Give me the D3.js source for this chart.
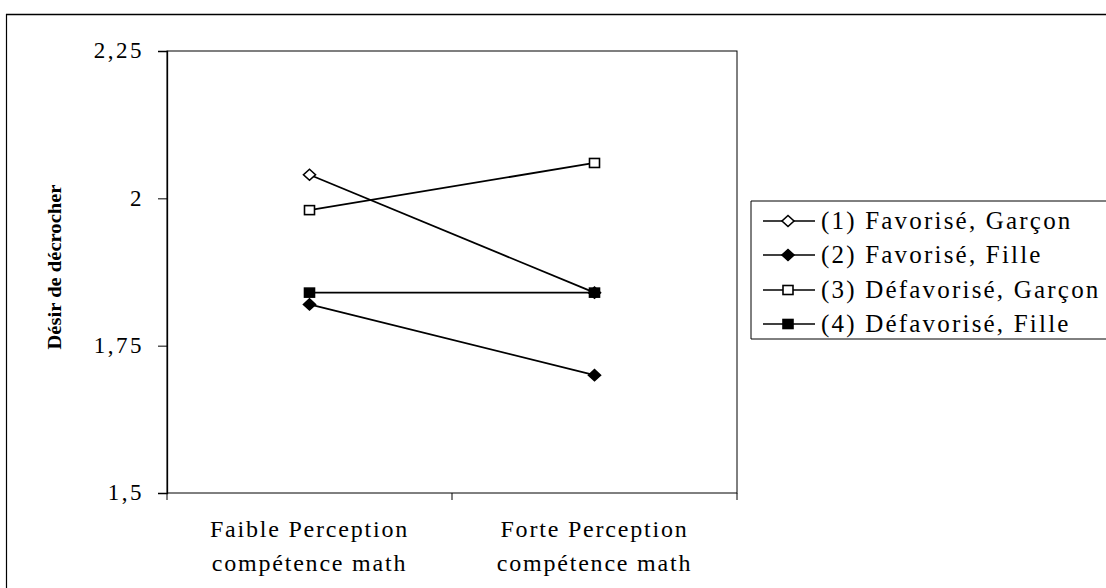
<!DOCTYPE html>
<html><head><meta charset="utf-8">
<script src="https://cdn.jsdelivr.net/npm/d3@7/dist/d3.min.js"></script>
<style>body{margin:0;background:#fff}svg{display:block}</style>
</head><body><svg id="c" width="1106" height="588"></svg>
<script>
const categories = [["Faible Perception","compétence math"],["Forte Perception","compétence math"]];
const seriesNames = ["(1) Favorisé, Garçon","(2) Favorisé, Fille","(3) Défavorisé, Garçon","(4) Défavorisé, Fille"];
const s1 = [2.04, 1.84];
const s2 = [1.82, 1.70];
const s3 = [1.98, 2.06];
const s4 = [1.84, 1.84];
const yTicks = [1.5, 1.75, 2, 2.25];
const yTickLabels = ["1,5","1,75","2","2,25"];
const yLabel = "Désir de décrocher";
const markers = [{shape:"diamond",fill:"#fff"},{shape:"diamond",fill:"#000"},{shape:"square",fill:"#fff"},{shape:"square",fill:"#000"}];
const seriesData = [s1,s2,s3,s4];

const svg = d3.select("#c");
const serif = "'Liberation Serif','Times New Roman',serif";
const L=167,R=737,T=51,B=493;

// outer frame
svg.append("line").attr("x1",6).attr("x2",1106).attr("y1",14.5).attr("y2",14.5).attr("stroke","#000").attr("stroke-width",1.5);
svg.append("line").attr("x1",6.5).attr("x2",6.5).attr("y1",14).attr("y2",588).attr("stroke","#000").attr("stroke-width",1.2);

const x = d3.scaleBand().domain(categories.map((d,i)=>i)).range([L,R]);
const y = d3.scaleLinear().domain([1.5,2.25]).range([B,T]);

// plot frame
svg.append("rect").attr("x",L).attr("y",T).attr("width",R-L).attr("height",B-T).attr("fill","none").attr("stroke","#000").attr("stroke-width",1);

// y axis
const ya = svg.append("g").attr("transform",`translate(${L},0)`)
  .call(d3.axisLeft(y).tickValues(yTicks).tickFormat((d,i)=>yTickLabels[i]).tickSize(9).tickPadding(14));
ya.select(".domain").attr("stroke","#000").attr("stroke-width",1.3);
ya.selectAll("text").attr("font-family",serif).attr("font-size",23).attr("fill","#000").attr("letter-spacing",2.5).attr("dy","0.3em");

// x axis ticks (boundaries)
const bounds = [L, L+x.bandwidth(), R];
svg.selectAll(".xt").data(bounds).enter().append("line")
  .attr("x1",d=>d).attr("x2",d=>d).attr("y1",B).attr("y2",B+7).attr("stroke","#000");
// x labels
categories.forEach((c,i)=>{
  const cx = x(i)+x.bandwidth()/2;
  c.forEach((t,j)=>{
    svg.append("text").attr("x",cx).attr("y",537+j*34).attr("text-anchor","middle")
      .attr("font-family",serif).attr("font-size",24).attr("letter-spacing",1.8).text(t);
  });
});

// y label
svg.append("text").attr("transform","translate(61,267) rotate(-90)").attr("text-anchor","middle")
  .attr("font-family",serif).attr("font-weight","bold").attr("font-size",19)
  .attr("textLength",165).attr("lengthAdjust","spacingAndGlyphs").text(yLabel);

function marker(g, m, cx, cy){
  if(m.shape==="diamond"){
    g.append("path").attr("d",`M${cx},${cy-5.5}L${cx+6},${cy}L${cx},${cy+5.5}L${cx-6},${cy}Z`)
      .attr("fill",m.fill).attr("stroke","#000").attr("stroke-width",1.6);
  } else {
    g.append("rect").attr("x",cx-5).attr("y",cy-4.5).attr("width",10).attr("height",9)
      .attr("fill",m.fill).attr("stroke","#000").attr("stroke-width",1.6);
  }
}

const line = d3.line().x((d,i)=>x(i)+x.bandwidth()/2).y(d=>y(d));
const pg = svg.append("g");
seriesData.forEach((s,k)=>{
  pg.append("path").attr("d",line(s)).attr("fill","none").attr("stroke","#000").attr("stroke-width",1.8);
});
seriesData.forEach((s,k)=>{
  s.forEach((v,i)=>marker(pg, markers[k], x(i)+x.bandwidth()/2, y(v)));
});

// legend
const lg = svg.append("g");
lg.append("path").attr("d","M751,339 L751,201 L1106,201").attr("fill","none").attr("stroke","#000").attr("stroke-width",1);
lg.append("line").attr("x1",751).attr("x2",1106).attr("y1",339).attr("y2",339).attr("stroke","#000").attr("stroke-width",1);
const rowsY = [221,255,290,324];
seriesNames.forEach((n,k)=>{
  const ry = rowsY[k];
  lg.append("line").attr("x1",763).attr("x2",815).attr("y1",ry).attr("y2",ry).attr("stroke","#000").attr("stroke-width",1.5);
  marker(lg, markers[k], 788, ry);
  lg.append("text").attr("x",821).attr("y",ry).attr("dy","0.33em").attr("font-family",serif)
    .attr("font-size",25).attr("letter-spacing",2.2).text(n);
});
</script></body></html>
